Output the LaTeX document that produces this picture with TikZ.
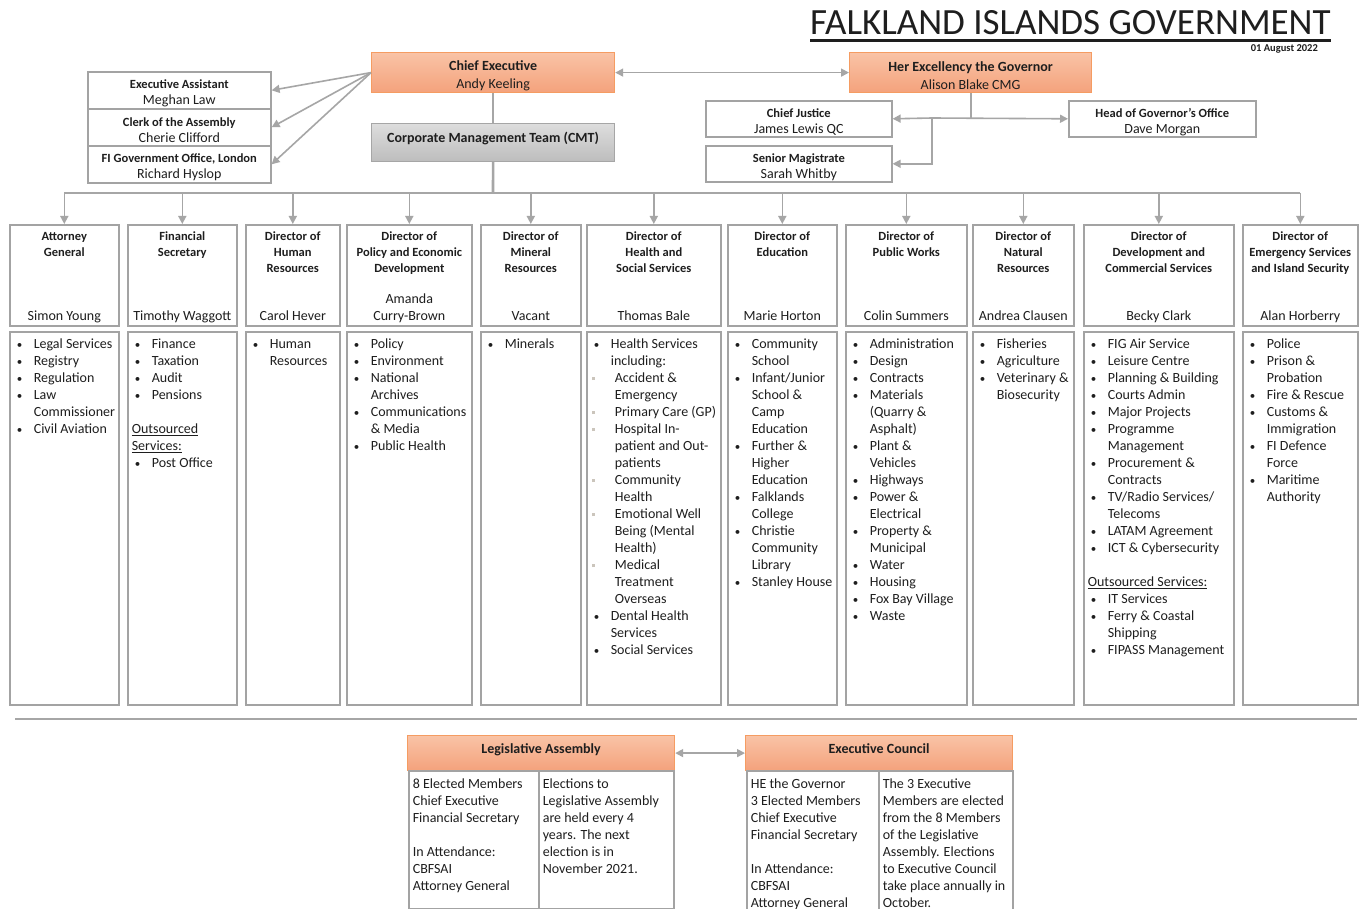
\documentclass[tikz,border=0pt]{standalone}
\usepackage{fontspec}
\setmainfont{Carlito}
\usetikzlibrary{arrows.meta}

\definecolor{lg}{HTML}{A6A6A6}
\definecolor{bx}{HTML}{A3A3A3}
\definecolor{orT}{HTML}{F9C3A6}
\definecolor{orB}{HTML}{F4A27C}
\definecolor{orD}{HTML}{F59C62}
\definecolor{gyT}{HTML}{DDDDDD}
\definecolor{gyB}{HTML}{BDBDBD}
\definecolor{tx}{HTML}{1E1E1E}
\definecolor{sq}{HTML}{CBC5BC}

\newcommand{\bu}{\makebox[17pt][l]{\fontsize{11}{11}\selectfont\textbullet}}
\newcommand{\ct}{\hspace*{17pt}}
\newcommand{\sbu}{\makebox[21pt][l]{\hspace*{-2pt}\raisebox{2pt}{\textcolor{sq}{\rule{3pt}{3pt}}}}}
\newcommand{\sct}{\hspace*{21pt}}
\newcommand{\dt}[1]{{\bfseries\fontsize{12.5}{16}\selectfont\strut#1\par}}
\newcommand{\bt}[1]{\rule{0pt}{15.4pt}{\bfseries\fontsize{12.5}{16}\selectfont#1}}

\begin{document}
\begin{tikzpicture}[x=1pt, y=-1pt,
every node/.style = {text=tx},
box/.style = {draw=bx, line width=1.6pt, fill=white},
orng/.style = {draw=orD, line width=1.2pt, top color=orT, bottom color=orB, anchor=north west,
  minimum width=#1, minimum height=40, inner sep=0pt, align=center, font=\fontsize{14}{18}\selectfont},
aide/.style = {box, anchor=north west, minimum width=#1, minimum height=37, inner sep=0pt,
  align=center, font=\fontsize{14}{16}\selectfont},
cmtbox/.style = {draw=lg, line width=1.2pt, top color=gyT, bottom color=gyB, anchor=north west,
  minimum width=243, minimum height=38, inner sep=0pt, text depth=10.5pt, font=\bfseries\fontsize{14}{17}\selectfont},
dir/.style = {box, anchor=north west, inner sep=0pt, font=\fontsize{14}{17}\selectfont,
  execute at begin node={\begin{minipage}[t][101pt][t]{#1pt}\centering\vspace*{4.8pt}},
  execute at end node={\strut\end{minipage}}},
lst/.style = {box, anchor=north west, inner sep=0pt, font=\fontsize{14}{17}\selectfont,
  execute at begin node={\begin{minipage}[t][373pt][t]{#1pt}\raggedright\leftskip=7pt\hyphenpenalty=10000\relax\vspace*{4.5pt}\strut},
  execute at end node={\end{minipage}}},
cell/.style 2 args = {box, anchor=north west, inner sep=0pt, font=\fontsize{14}{17}\selectfont,
  execute at begin node={\begin{minipage}[t][#2pt][t]{#1pt}\raggedright\leftskip=4pt\hyphenpenalty=10000\relax\vspace*{6pt}\strut},
  execute at end node={\end{minipage}}},
ln/.style = {draw=lg, line width=2pt},
arr/.style = {draw=lg, line width=1.6pt, -{Triangle[length=8pt,width=8pt]}},
dbl/.style = {draw=lg, line width=1.6pt, {Triangle[length=8pt,width=8pt]}-{Triangle[length=8pt,width=8pt]}}
]
  \fill[white] (0,0) rectangle (1364,909);
  \useasboundingbox (0,0) rectangle (1364,909);

  \node[anchor=base west, inner sep=0pt, font=\fontsize{37}{40}\selectfont] (title) at (810,35) {FALKLAND ISLANDS GOVERNMENT};
  \draw[tx, line width=2.2pt] ([yshift=-5.5pt]title.base west) -- ([yshift=-5.5pt]title.base east);
  \node[anchor=base east, inner sep=0pt, font=\bfseries\fontsize{10.5}{12}\selectfont] (date) at (1318,52) {01 August 2022};

  \node[orng=243] (ce) at (371,52) {\rule{0pt}{16.5pt}\textbf{Chief Executive}\\Andy Keeling};
  \node[orng=242] (gov) at (849,52) {\rule{0pt}{15pt}\textbf{Her Excellency the Governor}\\Alison Blake CMG};
  \node[cmtbox] (cmt) at (371,123) {Corporate Management Team (CMT)};

  \node[aide=183] (ea) at (87,71) {\bt{Executive Assistant}\\Meghan Law};
  \node[aide=183] (clerk) at (87,108) {\bt{Clerk of the Assembly}\\Cherie Clifford};
  \node[aide=183] (fio) at (87,145) {\bt{FI Government Office, London}\\Richard Hyslop};

  \node[aide=186, minimum height=36] (cj) at (705,100) {\bt{Chief Justice}\\James Lewis QC};
  \node[aide=187, minimum height=36] (hgo) at (1068,100) {\bt{Head of Governor's Office}\\Dave Morgan};
  \node[aide=186, minimum height=36] (sm) at (705,145) {\bt{Senior Magistrate}\\Sarah Whitby};

  \node[dir=109] (ag) at (9,224) {\dt{Attorney\\General}\vfill Simon Young};
  \node[dir=109] (fs) at (127,224) {\dt{Financial\\Secretary}\vfill Timothy Waggott};
  \node[dir=94] (hr) at (245,224) {\dt{Director of\\Human\\Resources}\vfill Carol Hever};
  \node[dir=125] (ped) at (346,224) {\dt{Director of\\Policy and Economic\\Development}\vfill Amanda\\Curry-Brown};
  \node[dir=100] (mr) at (480,224) {\dt{Director of\\Mineral\\Resources}\vfill Vacant};
  \node[dir=134] (hss) at (586,224) {\dt{Director of\\Health and\\Social Services}\vfill Thomas Bale};
  \node[dir=109] (edu) at (727,224) {\dt{Director of\\Education}\vfill Marie Horton};
  \node[dir=121] (pw) at (845,224) {\dt{Director of\\Public Works}\vfill Colin Summers};
  \node[dir=101] (nr) at (972,224) {\dt{Director of\\Natural\\Resources}\vfill Andrea Clausen};
  \node[dir=150] (dcs) at (1083,224) {\dt{Director of\\Development and\\Commercial Services}\vfill Becky Clark};
  \node[dir=115] (esi) at (1242,224) {\dt{Director of\\Emergency Services\\and Island Security}\vfill Alan Horberry};

  \node[lst=109] (agl) at (9,331) {\bu Legal Services\\ \bu Registry\\ \bu Regulation\\ \bu Law\\ \ct Commissioner\\ \bu Civil Aviation};
  \node[lst=109] (fsl) at (127,331) {\bu Finance\\ \bu Taxation\\ \bu Audit\\ \bu Pensions\\[17pt]
    \hspace*{-3pt}\underline{Outsourced}\\ \hspace*{-3pt}\underline{Services:}\\ \bu Post Office};
  \node[lst=94] (hrl) at (245,331) {\bu Human\\ \ct Resources};
  \node[lst=125] (pedl) at (346,331) {\bu Policy\\ \bu Environment\\ \bu National\\ \ct Archives\\ \bu Communications\\ \ct \& Media\\ \bu Public Health};
  \node[lst=100] (mrl) at (480,331) {\bu Minerals};
  \node[lst=134] (hssl) at (586,331) {\bu Health Services\\ \ct including:\\ \sbu Accident \&\\ \sct Emergency\\ \sbu Primary Care (GP)\\
    \sbu Hospital In-\\ \sct patient and Out-\\ \sct patients\\ \sbu Community\\ \sct Health\\ \sbu Emotional Well\\ \sct Being (Mental\\ \sct Health)\\
    \sbu Medical\\ \sct Treatment\\ \sct Overseas\\ \bu Dental Health\\ \ct Services\\ \bu Social Services};
  \node[lst=109] (edul) at (727,331) {\bu Community\\ \ct School\\ \bu Infant/Junior\\ \ct School \&\\ \ct Camp\\ \ct Education\\ \bu Further \&\\ \ct Higher\\ \ct Education\\
    \bu Falklands\\ \ct College\\ \bu Christie\\ \ct Community\\ \ct Library\\ \bu Stanley House};
  \node[lst=121] (pwl) at (845,331) {\bu Administration\\ \bu Design\\ \bu Contracts\\ \bu Materials\\ \ct (Quarry \&\\ \ct Asphalt)\\ \bu Plant \&\\ \ct Vehicles\\ \bu Highways\\
    \bu Power \&\\ \ct Electrical\\ \bu Property \&\\ \ct Municipal\\ \bu Water\\ \bu Housing\\ \bu Fox Bay Village\\ \bu Waste};
  \node[lst=101] (nrl) at (972,331) {\bu Fisheries\\ \bu Agriculture\\ \bu Veterinary \&\\ \ct Biosecurity};
  \node[lst=150] (dcsl) at (1083,331) {\bu FIG Air Service\\ \bu Leisure Centre\\ \bu Planning \& Building\\ \bu Courts Admin\\ \bu Major Projects\\ \bu Programme\\ \ct Management\\
    \bu Procurement \&\\ \ct Contracts\\ \bu TV/Radio Services/\\ \ct Telecoms\\ \bu LATAM Agreement\\ \bu ICT \& Cybersecurity\\[17pt]
    \hspace*{-3pt}\underline{Outsourced Services:}\\ \bu IT Services\\ \bu Ferry \& Coastal\\ \ct Shipping\\ \bu FIPASS Management};
  \node[lst=115] (esil) at (1242,331) {\bu Police\\ \bu Prison \&\\ \ct Probation\\ \bu Fire \& Rescue\\ \bu Customs \&\\ \ct Immigration\\ \bu FI Defence\\ \ct Force\\ \bu Maritime\\ \ct Authority};

  \draw[lg, line width=2.5pt] (15,719) -- (1357,719);

  \node[orng=267, minimum height=35, text depth=9.5pt, font=\bfseries\fontsize{14}{17}\selectfont] (la) at (407,735) {Legislative Assembly};
  \node[orng=267, minimum height=35, text depth=9.5pt, font=\bfseries\fontsize{14}{17}\selectfont] (ec) at (745,735) {Executive Council};
  \node[cell={130}{138}] (lam) at (408,770) {8 Elected Members\\ Chief Executive\\ Financial Secretary\\[17pt] In Attendance:\\ CBFSAI\\ Attorney General};
  \node[cell={135}{138}] (lae) at (538,770) {Elections to\\ Legislative Assembly\\ are held every 4\\ years. The next\\ election is in\\ November 2021.};
  \node[cell={132}{144}] (ecm) at (746,770) {HE the Governor\\ 3 Elected Members\\ Chief Executive\\ Financial Secretary\\[17pt] In Attendance:\\ CBFSAI\\ Attorney General};
  \node[cell={134}{144}] (ece) at (878,770) {The 3 Executive\\ Members are elected\\ from the 8 Members\\ of the Legislative\\ Assembly. Elections\\ to Executive Council\\ take place annually in\\ October.};

  \draw[dbl] (ce.east) -- (gov.west);
  \draw[arr] (ce.west) -- (ea.east);
  \draw[arr] (ce.west) -- (clerk.east);
  \draw[arr] (ce.west) -- (fio.east);
  \draw[lg, line width=1.4pt] (ce.south) -- (cmt.north);

  \coordinate (bus) at (493,193);
  \draw[ln, line width=2.6pt] (cmt.south) -- (bus);
  \draw[ln] (ag.north |- bus) -- (esi.north |- bus);
  \foreach \d in {ag,fs,hr,ped,mr,hss,edu,pw,nr,dcs,esi}
    \draw[arr] (\d.north |- bus) -- (\d.north);

  \coordinate (gj) at (932,118);
  \draw[ln] (gov.south) -- (gov.south |- gj);
  \draw[arr] (gj) -- (hgo.west);
  \draw[arr] (gj) -- (cj.east);
  \draw[arr] (gj) |- (sm.east);

  \draw[dbl] (la.east) -- (ec.west);
\end{tikzpicture}
\end{document}
